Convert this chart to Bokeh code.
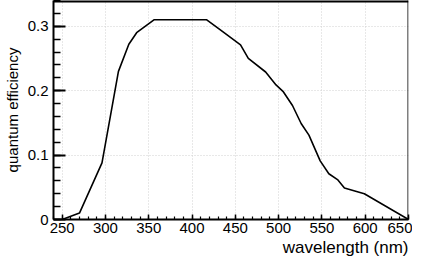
from bokeh.plotting import figure
from bokeh.models import FixedTicker, Span, Title, CustomJSTickFormatter, Range1d
from bokeh.embed import file_html
from bokeh.resources import INLINE

wavelength = [250, 270, 296, 315, 327, 336, 356, 417, 437, 456, 465, 485, 497, 505,
              516, 526, 535, 548, 558, 568, 576, 599, 650]
qe = [0.0, 0.01, 0.088, 0.23, 0.272, 0.29, 0.31, 0.31, 0.29, 0.271, 0.25, 0.229, 0.209,
      0.199, 0.177, 0.149, 0.131, 0.091, 0.071, 0.062, 0.049, 0.040, 0.0]

x_major = [250, 300, 350, 400, 450, 500, 550, 600, 650]
x_minor = list(range(240, 651, 10))
y_major = [0.0, 0.1, 0.2, 0.3]
y_minor = [round(i * 0.02, 2) for i in range(0, 18)]

FONT = "Liberation Sans"

p = figure(frame_width=355, frame_height=219, output_backend="svg", toolbar_location=None,
           x_range=Range1d(240, 650), y_range=Range1d(0, 0.34),
           min_border_left=49, min_border_right=4, min_border_top=0, min_border_bottom=0)
p.outline_line_color = None
p.background_fill_color = "white"
p.border_fill_color = "white"

p.line(wavelength, qe, line_color="black", line_width=1.6)

for ax in (p.xaxis[0], p.yaxis[0]):
    ax.axis_line_color = "black"
    ax.axis_line_width = 2
    ax.major_tick_line_color = "black"
    ax.minor_tick_line_color = "black"
    ax.major_label_text_font = FONT
    ax.major_label_text_font_size = "15px"
    ax.major_label_text_color = "black"
    ax.major_tick_out = 0
    ax.minor_tick_out = 0
    ax.formatter = CustomJSTickFormatter(code="return String(Math.round(tick*100)/100);")

p.xaxis.ticker = FixedTicker(ticks=x_major, minor_ticks=x_minor)
p.yaxis.ticker = FixedTicker(ticks=y_major, minor_ticks=y_minor)
p.xaxis.major_tick_in = 5
p.xaxis.minor_tick_in = 3
p.xaxis.major_tick_line_width = 1.5
p.xaxis.minor_tick_line_width = 1.2
p.xaxis.major_label_standoff = 3
p.yaxis.major_tick_in = 12
p.yaxis.minor_tick_in = 7
p.yaxis.major_tick_line_width = 2
p.yaxis.minor_tick_line_width = 1.5
p.yaxis.major_label_standoff = 5

p.yaxis.axis_label = "quantum efficiency"
p.yaxis.axis_label_text_font = FONT
p.yaxis.axis_label_text_font_size = "15px"
p.yaxis.axis_label_text_font_style = "normal"
p.yaxis.axis_label_text_color = "black"
p.yaxis.axis_label_standoff = 4

p.add_layout(Title(text="wavelength (nm)", align="right", text_font=FONT,
                   text_font_size="17px", text_font_style="normal",
                   text_color="black", standoff=0), "below")

p.xgrid.ticker = FixedTicker(ticks=x_major)
p.ygrid.ticker = FixedTicker(ticks=y_major)
for g in (p.xgrid[0], p.ygrid[0]):
    g.grid_line_color = "#d0d0d0"
    g.grid_line_dash = "1 2"
    g.grid_line_width = 1

p.add_layout(Span(location=0.34, dimension="width", line_color="black", line_width=4))
p.add_layout(Span(location=650, dimension="height", line_color="black",
                  line_width=3, line_dash="1 1"))

open("out.html", "w").write(file_html(p, INLINE))
